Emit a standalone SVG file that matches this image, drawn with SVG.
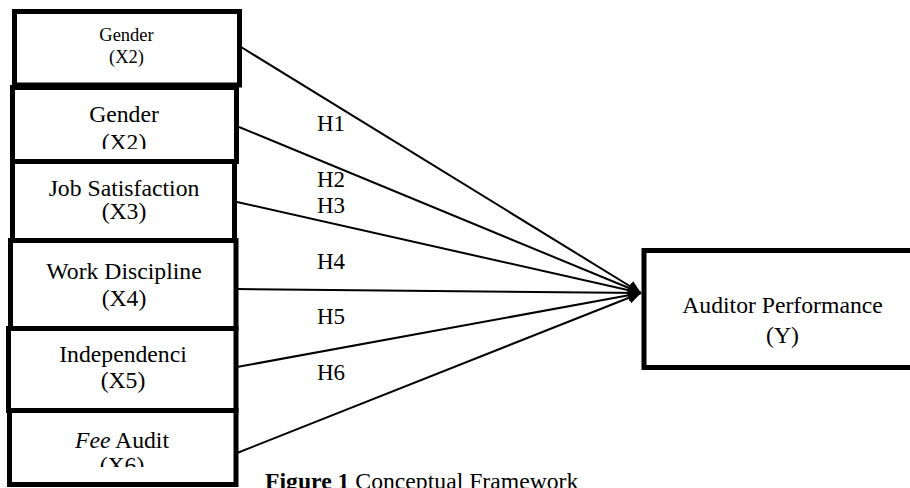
<svg xmlns="http://www.w3.org/2000/svg" width="910" height="488" viewBox="0 0 910 488">
<style>
.box{fill:#fff;stroke:#000;stroke-width:5}
.t{font-family:"Liberation Serif","Times New Roman",serif;font-size:23.7px;fill:#000;text-anchor:middle}
.s{font-size:18.5px}
.h{font-family:"Liberation Serif","Times New Roman",serif;font-size:23px;fill:#000}
.c{font-family:"Liberation Serif","Times New Roman",serif;font-size:23.7px;fill:#000}
.ln{stroke:#000;stroke-width:2;fill:none;marker-end:url(#arr)}
</style>
<defs>
<marker id="arr" markerUnits="userSpaceOnUse" markerWidth="14" markerHeight="12" refX="13" refY="6" orient="auto">
<path d="M0,0 L13,6 L0,12 z" fill="#000"/>
</marker>
<clipPath id="clip2"><rect x="0" y="88" width="240" height="61"/></clipPath>
<clipPath id="clip6"><rect x="0" y="412" width="240" height="55"/></clipPath>
</defs>
<rect width="910" height="488" fill="#fff"/>
<g id="node-x2a">
<rect class="box" x="14.5" y="11.5" width="225" height="73.5"/>
<text class="t s" x="126.5" y="41">Gender</text>
<text class="t s" x="126.5" y="63">(X2)</text>
</g>
<g id="node-x2b">
<rect class="box" x="12.5" y="87.5" width="224" height="74"/>
<g clip-path="url(#clip2)">
<text class="t" x="124" y="121.5">Gender</text>
<text class="t" x="124" y="149.5">(X2)</text>
</g>
</g>
<g id="node-x3">
<rect class="box" x="12.5" y="161.5" width="222" height="79"/>
<text class="t" x="124" y="196">Job Satisfaction</text>
<text class="t" x="124" y="218.5">(X3)</text>
</g>
<g id="node-x4">
<rect class="box" x="10.5" y="240.5" width="225.5" height="88"/>
<text class="t" x="124" y="279">Work Discipline</text>
<text class="t" x="124" y="305.5">(X4)</text>
</g>
<g id="node-x5">
<rect class="box" x="8.5" y="328.5" width="227.5" height="82"/>
<text class="t" x="123" y="361.5">Independenci</text>
<text class="t" x="123" y="388">(X5)</text>
</g>
<g id="node-x6">
<rect class="box" x="9.5" y="410.5" width="226.5" height="74"/>
<g clip-path="url(#clip6)">
<text class="t" x="122" y="448"><tspan font-style="italic">Fee</tspan> Audit</text>
<text class="t" x="122" y="472.5">(X6)</text>
</g>
</g>
<g id="node-y">
<rect class="box" x="644" y="250.5" width="290" height="117"/>
<text class="t" x="782.5" y="312.5">Auditor Performance</text>
<text class="t" x="782.5" y="343">(Y)</text>
</g>
<g id="connectors">
<line class="ln" x1="241" y1="47" x2="641" y2="293"/>
<line class="ln" x1="239" y1="127" x2="641" y2="293"/>
<line class="ln" x1="237" y1="202" x2="641" y2="293"/>
<line class="ln" x1="237" y1="289" x2="641" y2="293"/>
<line class="ln" x1="237" y1="367" x2="641" y2="293"/>
<line class="ln" x1="237" y1="453" x2="641" y2="293"/>
</g>
<g id="labels">
<text class="h" x="317" y="131">H1</text>
<text class="h" x="317" y="187">H2</text>
<text class="h" x="317" y="213">H3</text>
<text class="h" x="317" y="269">H4</text>
<text class="h" x="317" y="324">H5</text>
<text class="h" x="317" y="380">H6</text>
</g>
<g id="caption">
<text class="c" x="265" y="489"><tspan font-weight="bold">Figure 1</tspan> Conceptual Framework</text>
</g>
</svg>
